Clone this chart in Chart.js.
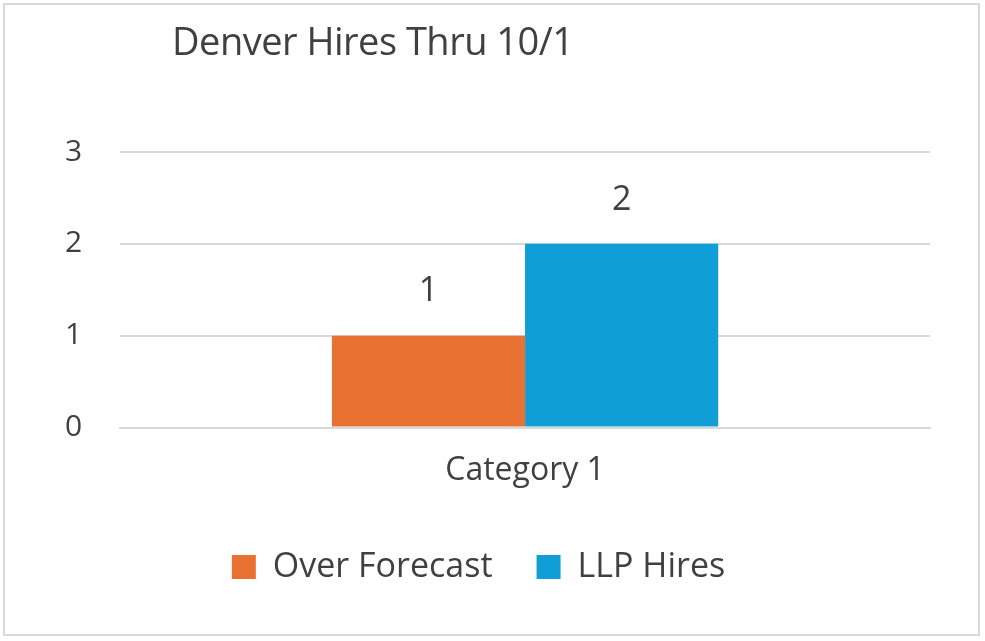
<!DOCTYPE html>
<html><head><meta charset="utf-8">
<script src="https://cdn.jsdelivr.net/npm/chart.js@4/dist/chart.umd.min.js"></script>
<style>
html,body{margin:0;padding:0;background:#fff;}
#wrap{position:absolute;left:3px;top:3px;width:973px;height:629px;border:2px solid #d9d9d9;}
#title{position:absolute;left:172px;top:14px;font:38px "Open Sans",Arial,sans-serif;letter-spacing:-0.5px;color:#404040;margin:0;font-weight:normal;}
#cv{position:absolute;left:0;top:0;}
</style></head>
<body>
<div id="wrap"><canvas id="cv" width="973" height="629"></canvas></div>
<h1 id="title">Denver Hires Thru 10/1</h1>
<script>
const categories=['Category 1'];
const overForecast=[1];
const llpHires=[2];
const yTicks=[0,1,2,3];
const FONT='"Open Sans",Arial,sans-serif';
const valueLabels={id:'valueLabels',afterDatasetsDraw(chart){
  const ctx=chart.ctx;ctx.save();
  ctx.font='34px '+FONT;ctx.fillStyle='#404040';ctx.textAlign='center';ctx.textBaseline='middle';
  chart.data.datasets.forEach((ds,i)=>{chart.getDatasetMeta(i).data.forEach((bar,j)=>{ctx.fillText(ds.data[j],bar.x,bar.y-44);});});
  ctx.restore();
}};
new Chart(document.getElementById('cv'),{
  type:'bar',
  data:{labels:categories,datasets:[
    {label:'Over Forecast',data:overForecast,backgroundColor:'#e97132'},
    {label:'LLP Hires',data:llpHires,backgroundColor:'#0f9ed5'}]},
  options:{responsive:false,animation:false,
    layout:{padding:{top:147,right:48,left:22,bottom:40}},
    datasets:{bar:{categoryPercentage:0.477,barPercentage:1}},
    plugins:{title:{display:false},tooltip:{enabled:false},
      legend:{position:'bottom',labels:{color:'#404040',font:{size:34,family:FONT},boxWidth:24,boxHeight:24,padding:44}}},
    scales:{
      y:{min:0,max:3,afterBuildTicks(a){a.ticks=yTicks.map(v=>({value:v}));},
        ticks:{color:'#404040',font:{size:30,family:FONT},padding:38},
        grid:{color:'#d9d9d9',lineWidth:2,drawTicks:false},border:{display:false}},
      x:{ticks:{color:'#404040',font:{size:32,family:FONT},padding:16},
        grid:{display:false},border:{color:'#d9d9d9',width:2}}
    }},
  plugins:[valueLabels]
});
</script>
</body></html>
